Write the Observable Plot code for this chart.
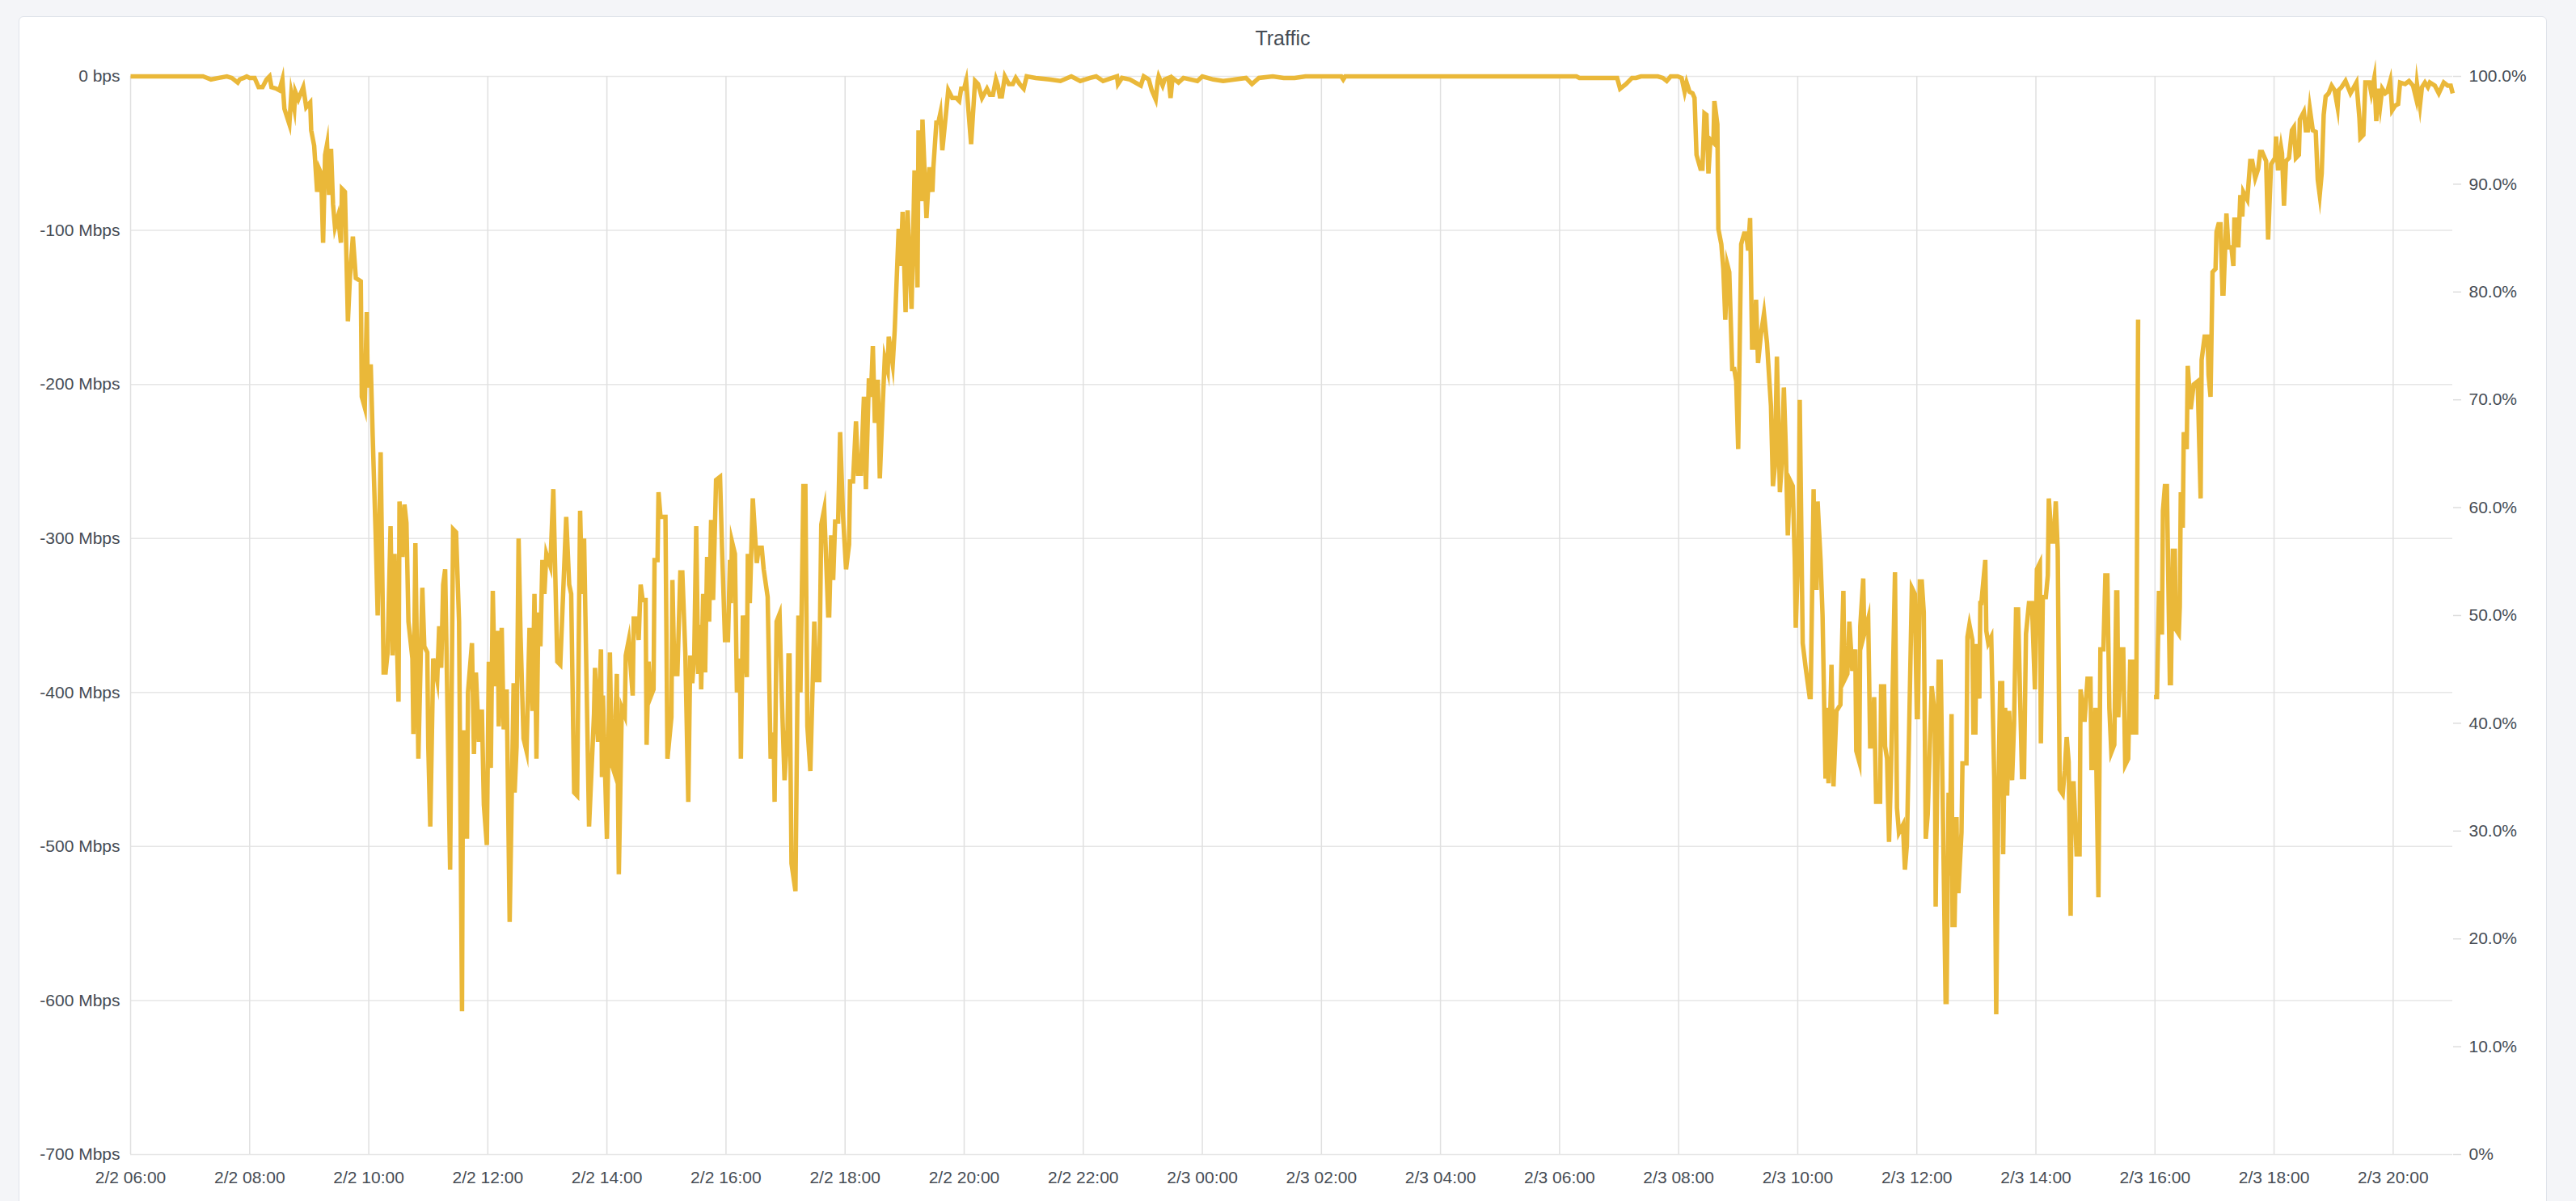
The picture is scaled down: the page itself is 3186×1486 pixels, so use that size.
<!DOCTYPE html>
<html>
<head>
<meta charset="utf-8">
<script src="https://cdn.jsdelivr.net/npm/d3@7"></script>
<script src="https://cdn.jsdelivr.net/npm/@observablehq/plot@0.6"></script>
<style>
html, body { margin: 0; padding: 0; background: #f4f5f8; }
body { width: 3186px; height: 1486px; overflow: hidden; position: relative; font-family: "Liberation Sans", Arial, Helvetica, sans-serif; }
#panel { position: absolute; left: 23px; top: 20px; width: 3127px; height: 1490px; background: #fff; border: 1px solid #dfe3ea; border-radius: 6px; box-sizing: border-box; }
#title { height: 40px; padding-top: 6px; line-height: 40px; text-align: center; font-size: 25px; color: #464c54; }
#chart svg { display: block; }
</style>
</head>
<body>
<div id="panel">
  <div id="title">Traffic</div>
  <div id="chart"></div>
</div>
<script>
// ---- Data (Mbps) ----
const day2Times = [
  "06:00","06:30",
  "07:00","07:13","07:21","07:29","07:37","07:42","07:48","07:50","07:54","07:57",
  "08:00","08:05","08:09","08:13","08:17","08:20","08:22","08:27","08:30","08:33","08:35","08:40","08:42","08:45","08:46","08:49","08:54","08:57",
  "09:01","09:02","09:05","09:08","09:10","09:12","09:14","09:16","09:18","09:20","09:22","09:24","09:26","09:29","09:32","09:33","09:36","09:39","09:41","09:44","09:47","09:52","09:53","09:56","09:58","09:59",
  "10:02","10:04","10:07","10:09","10:12","10:15","10:17","10:19","10:22","10:24","10:26","10:30","10:31","10:34","10:36","10:38","10:40","10:44","10:45","10:47","10:50","10:54","10:56","10:59",
  "11:00","11:02","11:05","11:09","11:11","11:13","11:15","11:17","11:22","11:25","11:28","11:31","11:34","11:35","11:38","11:39","11:40","11:44","11:46","11:48","11:51","11:54","11:56","11:59",
  "12:01","12:03","12:05","12:07","12:10","12:11","12:14","12:16","12:19","12:22","12:26","12:27","12:29","12:31","12:33","12:36","12:39","12:42","12:45","12:47","12:49","12:51","12:53","12:55","12:57","12:59",
  "13:03","13:06","13:10","13:13","13:19","13:22","13:24","13:27","13:30","13:33","13:35","13:37","13:42","13:47","13:48","13:51","13:54","13:55","13:56",
  "14:00","14:03","14:05","14:07","14:10","14:12","14:15","14:18","14:19","14:22","14:26","14:27","14:30","14:32","14:34","14:36","14:39","14:40","14:42","14:44","14:47","14:48","14:51","14:52","14:54","14:59",
  "15:01","15:05","15:06","15:08","15:11","15:14","15:16","15:19","15:22","15:24","15:26","15:28","15:30","15:32","15:34","15:35","15:37","15:39","15:41","15:43","15:45","15:47","15:50","15:54","15:56","15:59",
  "16:02","16:04","16:05","16:06","16:09","16:11","16:14","16:15","16:17","16:21","16:22","16:24","16:27","16:31","16:33","16:36","16:38","16:42","16:45","16:48","16:49","16:51","16:54","16:56","16:59",
  "17:02","17:03","17:04","17:06","17:10","17:12","17:13","17:15","17:18","17:20","17:22","17:25","17:29","17:31","17:34","17:36","17:39","17:43","17:44","17:46","17:48","17:50","17:53","17:55","17:58",
  "18:01","18:04","18:05","18:08","18:11","18:13","18:16","18:19","18:21","18:24","18:26","18:28","18:30","18:33","18:35","18:38","18:40","18:43","18:44","18:48","18:50","18:54","18:56","18:58",
  "19:01","19:03","19:07","19:10","19:13","19:14","19:17","19:18","19:22","19:25","19:28","19:29","19:32","19:34","19:36","19:38","19:44","19:48","19:52","19:55","19:57",
  "20:00","20:02","20:07","20:11","20:14","20:18","20:23","20:26","20:29","20:32","20:34","20:36","20:38","20:41","20:45","20:49","20:52","20:56",
  "21:00","21:03","21:12","21:26","21:37","21:48","21:57",
  "22:07","22:13","22:20","22:34","22:35","22:39","22:47","22:58",
  "23:01","23:06","23:09","23:13","23:15","23:16","23:20","23:22","23:26","23:28","23:30","23:36","23:41","23:55"
];
const day2Mbps = [
  0,0,
  0,0,-2,-1,0,-1,-4,-2,-1,0,
  -1,-1,-7,-7,-2,0,-7,-8,-9,-2,-21,-31,-11,-21,-10,-15,-7,-20,
  -17,-35,-45,-75,-60,-63,-108,-51,-44,-77,-47,-83,-98,-91,-108,-73,-75,-159,-131,-104,-131,-133,-208,-215,-153,-202,
  -187,-234,-298,-350,-244,-387,-387,-374,-292,-376,-310,-406,-276,-312,-278,-290,-354,-378,-427,-303,-443,-332,-370,-374,
  -435,-487,-378,-392,-357,-384,-330,-320,-515,-294,-296,-354,-607,-426,-426,-495,-400,-368,-440,-387,-432,-411,-473,-499,
  -380,-449,-334,-396,-360,-422,-358,-424,-398,-549,-394,-465,-435,-300,-364,-430,-438,-358,-412,-336,-443,-348,-370,-314,-336,-310,
  -318,-268,-380,-382,-286,-330,-336,-465,-467,-282,-336,-300,-487,-414,-384,-432,-372,-455,-402,
  -495,-374,-447,-451,-388,-518,-410,-415,-376,-366,-402,-352,-352,-366,-330,-340,-340,-434,-380,-403,-398,-314,-314,-270,-286,-286,
  -443,-416,-327,-388,-388,-322,-322,-374,-471,-376,-394,-376,-292,-388,-356,-398,-336,-387,-312,-354,-288,-340,-262,-260,-306,-366,
  -366,-314,-342,-302,-310,-400,-378,-443,-350,-390,-310,-342,-274,-316,-306,-306,-320,-338,-443,-426,-471,-354,-349,-398,-457,
  -424,-376,-376,-511,-529,-400,-350,-400,-266,-266,-422,-451,-354,-392,-392,-291,-281,-350,-350,-298,-327,-289,-289,-231,-286,
  -320,-304,-263,-263,-224,-258,-258,-208,-268,-196,-208,-175,-225,-197,-261,-212,-183,-191,-169,-187,-165,-99,-123,-88,
  -153,-87,-151,-61,-137,-35,-81,-28,-92,-59,-75,-59,-30,-30,-24,-48,-9,-14,-14,-16,-8,
  -8,-3,-44,-3,-5,-14,-8,-12,-12,-2,-6,-13,-13,0,-5,-5,-1,-5,
  -8,0,-1,-2,-3,0,-3,
  -1,0,-3,0,-5,-1,-2,-6,
  0,-2,-9,-15,-3,0,-6,-2,-1,-14,-1,-4,-1,-3
];
const day3Times = [
  "00:00","00:11","00:21","00:33","00:44","00:50","00:57",
  "01:11","01:22","01:33","01:44","01:50",
  "02:20","02:22","02:24",
  "03:30","05:00",
  "06:17","06:20","06:58",
  "07:01","07:03","07:07","07:13","07:17","07:22","07:39","07:44","07:48","07:52","07:59",
  "08:03","08:06","08:08","08:11","08:14","08:16","08:18","08:22","08:24","08:26","08:28","08:30","08:32","08:35","08:36","08:39","08:40","08:43","08:45","08:47","08:49","08:51","08:54","08:56","08:58",
  "09:00","09:03","09:06","09:08","09:10","09:12","09:14","09:16","09:18","09:20","09:23","09:26","09:29","09:33","09:35","09:37","09:39","09:41","09:42","09:44","09:46","09:48","09:50","09:52","09:55","09:57","09:58",
  "10:01","10:02","10:05","10:08","10:12","10:13","10:16","10:17","10:19","10:20","10:23","10:25","10:28","10:29","10:31","10:34","10:36","10:39","10:43","10:46","10:47","10:50","10:52","10:55","10:58","10:59",
  "11:02","11:03","11:06","11:07","11:11","11:13","11:15","11:17","11:19","11:23","11:24","11:27","11:28","11:30","11:32","11:34","11:38","11:40","11:42","11:46","11:48","11:50","11:55","11:58",
  "12:00","12:01","12:03","12:05","12:07","12:09","12:11","12:15","12:18","12:19","12:22","12:24","12:26","12:29","12:30","12:32","12:33","12:35","12:36","12:38","12:40","12:41","12:42","12:45","12:46","12:50","12:51","12:53","12:56","12:57","12:59",
  "13:00","13:01","13:03","13:04","13:05","13:09","13:10","13:12","13:15","13:18","13:20","13:22","13:24","13:26","13:27","13:29","13:31","13:33","13:36","13:38","13:40","13:42","13:46","13:48","13:50","13:53","13:56","13:59",
  "14:01","14:04","14:05","14:07","14:10","14:12","14:13","14:16","14:18","14:20","14:22","14:24","14:27","14:29","14:31","14:33","14:35","14:36","14:38","14:41","14:44","14:45","14:49","14:52","14:55","14:56","14:58",
  "15:00","15:03","15:05","15:08","15:10","15:12","15:14","15:16","15:19","15:21","15:22","15:23","15:26","15:28","15:30","15:33","15:35","15:37","15:38","15:41","15:43","15:45","15:59",
  "16:02","16:04","16:06","16:07","16:08","16:10","16:12","16:15","16:16","16:18","16:20","16:21","16:24","16:25","16:26","16:28","16:29","16:32","16:33","16:36","16:39","16:43","16:46","16:47","16:50","16:53","16:54","16:56","16:58",
  "17:01","17:02","17:04","17:06","17:08","17:09","17:12","17:14","17:17","17:19","17:20","17:22","17:24","17:26","17:28","17:29","17:33","17:36","17:38","17:41","17:44","17:46","17:48","17:52","17:54","17:57",
  "18:01","18:02","18:04","18:07","18:08","18:10","18:12","18:15","18:18","18:20","18:22","18:25","18:26","18:30","18:32","18:34","18:36","18:39","18:42","18:44","18:46","18:48","18:50","18:52","18:55","18:58",
  "19:01","19:04","19:05","19:08","19:12","19:17","19:23","19:26","19:27","19:30","19:32","19:36","19:38","19:41","19:43","19:45","19:47","19:49","19:52","19:54","19:57","19:59",
  "20:02","20:05","20:07","20:12","20:16","20:20","20:23","20:24","20:27","20:29","20:32","20:35","20:37","20:42","20:46","20:51","20:55","20:58","21:00"
];
const day3Mbps = [
  0,-2,-3,-2,-1,-5,-1,
  0,-1,-1,0,0,
  0,-2,0,
  0,0,
  0,-1,-1,
  -8,-7,-5,-1,-1,0,0,-1,-3,0,0,
  -1,-10,-4,-10,-11,-14,-51,-60,-60,-24,-25,-63,-41,-43,-16,-31,-99,-109,-125,-158,-122,-127,-190,-190,-198,
  -242,-109,-102,-102,-113,-92,-176,-176,-145,-186,-167,-154,-173,-214,-266,-253,-182,-238,-270,-250,-202,-242,-298,-262,-266,-314,-358,
  -298,-210,-368,-384,-403,-403,-268,-332,-332,-276,-314,-350,-456,-410,-459,-382,-461,-412,-408,-334,-392,-388,-354,-386,-372,-438,
  -445,-357,-326,-362,-352,-435,-435,-403,-471,-471,-396,-396,-435,-443,-497,-451,-322,-475,-491,-486,-515,-499,-332,-336,
  -416,-416,-328,-328,-348,-495,-479,-396,-414,-539,-380,-380,-466,-601,-601,-465,-519,-414,-551,-551,-481,-529,-529,-491,-446,-446,-364,-356,-366,-426,-426,
  -370,-370,-404,-342,-342,-314,-360,-368,-364,-455,-609,-474,-394,-394,-505,-410,-467,-412,-457,-420,-346,-346,-455,-455,-362,-342,-342,-398,
  -320,-316,-433,-338,-338,-324,-274,-302,-302,-276,-308,-463,-466,-451,-429,-445,-545,-459,-459,-505,-505,-398,-419,-391,-391,-449,-449,
  -410,-533,-372,-372,-324,-324,-410,-439,-434,-335,-335,-416,-372,-372,-447,-443,-380,-380,-426,-426,-158,null,-403,
  -403,-334,-361,-361,-282,-266,-266,-394,-394,-308,-308,-359,-362,-344,-270,-293,-231,-242,-188,-216,-200,-198,-274,-184,-169,-169,-194,-208,-127,
  -125,-101,-96,-96,-141,-141,-89,-111,-111,-123,-93,-93,-111,-77,-91,-75,-80,-55,-55,-66,-60,-49,-49,-55,-106,-57,
  -53,-39,-61,-46,-50,-84,-55,-53,-35,-33,-53,-51,-28,-23,-35,-35,-21,-35,-36,-67,-77,-63,-25,-13,-11,-6,
  -9,-20,-9,-7,-3,-11,-4,-27,-40,-38,-4,-4,-11,-1,-29,-8,-19,-8,-11,-10,-3,-22,
  -19,-18,-4,-5,-3,-6,-14,-5,-19,-7,-4,-7,-4,-6,-11,-4,-6,-6,-11
];

// ---- Axis ticks / labels ----
const yTickValues = [0, -100, -200, -300, -400, -500, -600, -700];
const yTickLabels = ["0 bps", "-100 Mbps", "-200 Mbps", "-300 Mbps", "-400 Mbps", "-500 Mbps", "-600 Mbps", "-700 Mbps"];
const pctTicks = [0, 10, 20, 30, 40, 50, 60, 70, 80, 90, 100];
const xTickLabels = ["2/2 06:00","2/2 08:00","2/2 10:00","2/2 12:00","2/2 14:00","2/2 16:00","2/2 18:00","2/2 20:00","2/2 22:00",
  "2/3 00:00","2/3 02:00","2/3 04:00","2/3 06:00","2/3 08:00","2/3 10:00","2/3 12:00","2/3 14:00","2/3 16:00","2/3 18:00","2/3 20:00"];
const xStart = "2/2 06:00", xEnd = "2/3 21:00";

// ---- Build ----
function parseStamp(s) {
  const [md, hm] = s.split(" ");
  const [mo, dd] = md.split("/").map(Number);
  const [h, m] = hm.split(":").map(Number);
  return new Date(Date.UTC(2024, mo - 1, dd, h, m));
}
const pad = n => String(n).padStart(2, "0");
const fmtStamp = d => `${d.getUTCMonth() + 1}/${d.getUTCDate()} ${pad(d.getUTCHours())}:${pad(d.getUTCMinutes())}`;

const rows = [
  ...day2Times.map((t, i) => ({time: parseStamp("2/2 " + t), mbps: day2Mbps[i]})),
  ...day3Times.map((t, i) => ({time: parseStamp("2/3 " + t), mbps: day3Mbps[i]}))
].map(d => ({time: d.time, mbps: d.mbps == null ? NaN : d.mbps}));

const yLabel = new Map(yTickValues.map((v, i) => [v, yTickLabels[i]]));
const yMin = d3.min(yTickValues), yMax = d3.max(yTickValues);
const pctToY = p => yMin + (yMax - yMin) * p / 100;
const rightTicks = pctTicks.map(pctToY);
const rightLabel = new Map(pctTicks.map(p => [pctToY(p), p === 0 ? "0%" : p.toFixed(1) + "%"]));
const xTicks = xTickLabels.map(parseStamp);

const textColor = "#464c54";
const chart = Plot.plot({
  width: 3125,
  height: 1419,
  marginLeft: 137,
  marginRight: 116,
  marginTop: 27,
  marginBottom: 58,
  style: {fontFamily: '"Liberation Sans", Arial, Helvetica, sans-serif', fontSize: "21px", color: textColor, background: "transparent", overflow: "visible"},
  x: {type: "utc", domain: [parseStamp(xStart), parseStamp(xEnd)], axis: null},
  y: {domain: [yMin, yMax], axis: null},
  marks: [
    Plot.gridY(yTickValues, {stroke: "#e6e6e6", strokeOpacity: 1, strokeWidth: 1.5}),
    Plot.gridX(xTicks, {stroke: "#e0e0e0", strokeOpacity: 1, strokeWidth: 1.5}),
    Plot.axisY(yTickValues, {anchor: "left", label: null, tickSize: 0, tickPadding: 13, fontSize: 21, fill: textColor, tickFormat: d => yLabel.get(d)}),
    Plot.axisY(rightTicks, {anchor: "right", label: null, tickSize: 10, tickPadding: 10, fontSize: 21, stroke: "#dedede", strokeWidth: 1.5, fill: textColor, tickFormat: d => rightLabel.get(d)}),
    Plot.axisX(xTicks, {anchor: "bottom", label: null, tickSize: 0, tickPadding: 21, fontSize: 21, fill: textColor, tickFormat: fmtStamp}),
    Plot.line(rows, {x: "time", y: "mbps", stroke: "#EAB839", strokeWidth: 5.5, strokeLinejoin: "miter", strokeMiterlimit: 10, strokeLinecap: "butt"})
  ]
});
document.getElementById("chart").appendChild(chart);
</script>
</body>
</html>
